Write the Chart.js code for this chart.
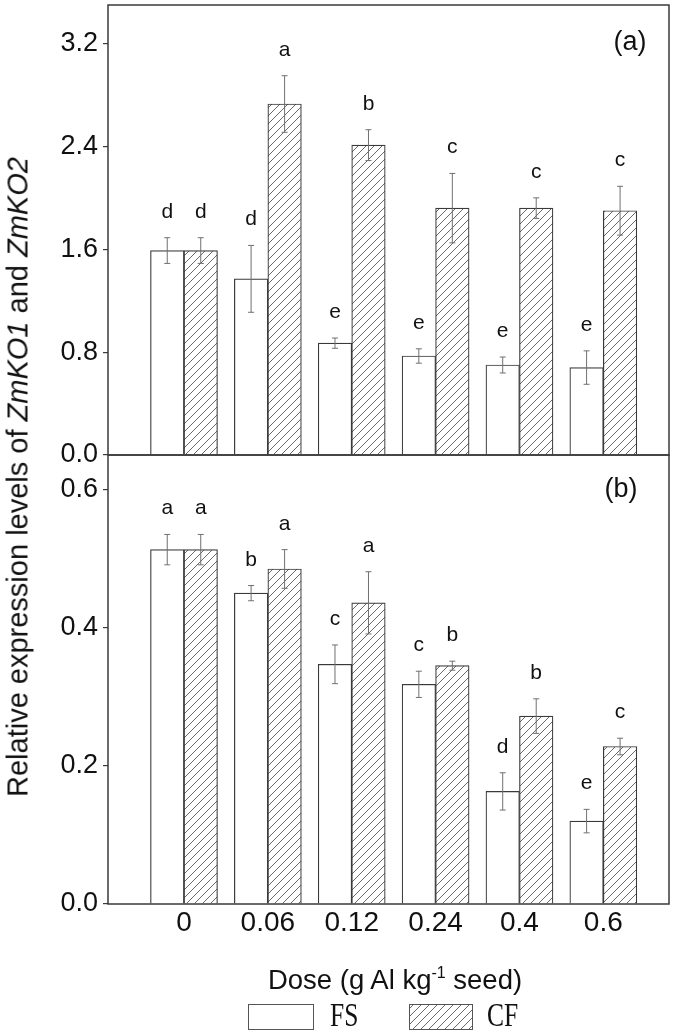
<!DOCTYPE html>
<html>
<head>
<meta charset="utf-8">
<script src="https://cdn.jsdelivr.net/npm/chart.js@4.4.0/dist/chart.umd.min.js"></script>
<style>
  body { margin: 0; background: #fff; }
  #wrap { position: relative; width: 675px; height: 1034px; overflow: hidden;
          font-family: Arial, "Liberation Sans", sans-serif; color: #111; }
  #cA { position: absolute; left: 0; top: 0; width: 675px; height: 480px; }
  #cB { position: absolute; left: 0; top: 450px; width: 675px; height: 584px; }
  #ytitle { position: absolute; left: 18px; top: 477px; white-space: nowrap; font-size: 29px;
            transform: translate(-50%, -50%) rotate(-90deg); }
  #xtitle { position: absolute; left: 395px; top: 980px; white-space: nowrap; font-size: 27.5px;
            transform: translate(-50%, -50%); }
  #xtitle sup { font-size: 16px; vertical-align: 11px; line-height: 0; }
</style>
</head>
<body>
<div id="wrap">
  <canvas id="cA" width="675" height="480"></canvas>
  <canvas id="cB" width="675" height="584"></canvas>
  <div id="ytitle">Relative expression levels of <i>ZmKO1</i> and <i>ZmKO2</i></div>
  <div id="xtitle">Dose (g Al kg<sup>-1</sup> seed)</div>
</div>
<script>
// ---- data ----
const doses = ['0', '0.06', '0.12', '0.24', '0.4', '0.6'];

// panel (a) ZmKO1
const fsA    = [1.59, 1.37, 0.87, 0.77, 0.70, 0.68];
const fsAErr = [0.10, 0.26, 0.04, 0.056, 0.062, 0.13];
const cfA    = [1.59, 2.73, 2.41, 1.92, 1.92, 1.90];
const cfAErr = [0.10, 0.22, 0.12, 0.27, 0.08, 0.19];
const fsALetters = ['d', 'd', 'e', 'e', 'e', 'e'];
const cfALetters = ['d', 'a', 'b', 'c', 'c', 'c'];
const yTicksA = [0, 0.8, 1.6, 2.4, 3.2];

// panel (b) ZmKO2
const fsB    = [0.513, 0.450, 0.347, 0.318, 0.163, 0.120];
const fsBErr = [0.022, 0.011, 0.028, 0.019, 0.027, 0.017];
const cfB    = [0.513, 0.485, 0.436, 0.345, 0.272, 0.228];
const cfBErr = [0.022, 0.028, 0.045, 0.0065, 0.025, 0.012];
const fsBLetters = ['a', 'b', 'c', 'c', 'd', 'e'];
const cfBLetters = ['a', 'a', 'a', 'b', 'b', 'c'];
const yTicksB = [0, 0.2, 0.4, 0.6];

const LINE = '#3a3a3a';
const ERR = '#707070';
const TEXT = '#111';

// diagonal hatch used for the CF bars
function makeHatch() {
    const c = document.createElement('canvas');
    c.width = 8; c.height = 8;
    const g = c.getContext('2d');
    g.fillStyle = '#fff';
    g.fillRect(0, 0, 8, 8);
    g.strokeStyle = '#6a6a6a';
    g.lineWidth = 1;
    g.beginPath();
    g.moveTo(0, 8); g.lineTo(8, 0);
    g.moveTo(-1, 1); g.lineTo(1, -1);
    g.moveTo(7, 9); g.lineTo(9, 7);
    g.stroke();
    return g.createPattern(c, 'repeat');
}
const hatch = makeHatch();

const panelDecor = {
    id: 'panelDecor',
    afterDatasetsDraw(chart, args, opts) {
        const { ctx } = chart;
        const y = chart.scales.y;
        ctx.save();
        chart.data.datasets.forEach((ds, di) => {
            const meta = chart.getDatasetMeta(di);
            meta.data.forEach((bar, i) => {
                const v = ds.data[i].y;
                const e = ds.err[i];
                const top = y.getPixelForValue(v + e);
                const bot = y.getPixelForValue(v - e);
                ctx.strokeStyle = ERR;
                ctx.lineWidth = 1;
                ctx.beginPath();
                ctx.moveTo(bar.x, top); ctx.lineTo(bar.x, bot);
                ctx.moveTo(bar.x - 3, top); ctx.lineTo(bar.x + 3, top);
                ctx.moveTo(bar.x - 3, bot); ctx.lineTo(bar.x + 3, bot);
                ctx.stroke();
                ctx.fillStyle = TEXT;
                ctx.font = '21px Arial, "Liberation Sans", sans-serif';
                ctx.textAlign = 'center';
                ctx.textBaseline = 'alphabetic';
                ctx.fillText(ds.letters[i], bar.x, top - 20);
            });
        });
        ctx.restore();
    },
    afterDraw(chart, args, opts) {
        const { ctx, chartArea: a } = chart;
        ctx.save();
        ctx.strokeStyle = LINE;
        ctx.lineWidth = 1.5;
        ctx.strokeRect(a.left, a.top, a.right - a.left, a.bottom - a.top);
        ctx.fillStyle = TEXT;
        ctx.font = '27px Arial, "Liberation Sans", sans-serif';
        ctx.textAlign = 'center';
        ctx.textBaseline = 'middle';
        ctx.fillText(opts.tag, opts.tagX, opts.tagY);
        if (opts.legend) {
            const ly = 554;
            ctx.lineWidth = 1;
            ctx.strokeStyle = '#555';
            ctx.fillStyle = '#fff';
            ctx.fillRect(248, ly, 65, 25);
            ctx.strokeRect(248.5, ly + 0.5, 65, 25);
            ctx.fillStyle = hatch;
            ctx.fillRect(409, ly, 63, 25);
            ctx.strokeRect(409.5, ly + 0.5, 63, 25);
            ctx.fillStyle = TEXT;
            ctx.font = '34px "Liberation Serif", "Times New Roman", serif';
            ctx.textAlign = 'left';
            ctx.textBaseline = 'middle';
            [['FS', 330], ['CF', 487]].forEach(([t, x]) => {
                ctx.save();
                ctx.translate(x, ly + 13);
                ctx.scale(0.75, 1);
                ctx.fillText(t, 0, 0);
                ctx.restore();
            });
        }
        ctx.restore();
    }
};

function makePanel(canvas, fs, fsErr, fsLet, cf, cfErr, cfLet, yMax, yTicks, decor, showX) {
    return new Chart(canvas, {
        type: 'bar',
        data: {
            datasets: [{
                label: 'FS',
                data: fs.map((v, i) => ({ x: i, y: v })),
                err: fsErr,
                letters: fsLet,
                backgroundColor: '#fff',
                borderColor: LINE,
                borderWidth: 1.2,
                barThickness: 33.5
            }, {
                label: 'CF',
                data: cf.map((v, i) => ({ x: i, y: v })),
                err: cfErr,
                letters: cfLet,
                backgroundColor: hatch,
                borderColor: LINE,
                borderWidth: 1.2,
                barThickness: 33.5
            }]
        },
        options: {
            responsive: false,
            maintainAspectRatio: false,
            animation: false,
            layout: { padding: { left: 0, right: 6, top: 5, bottom: showX ? 0 : 25 } },
            plugins: {
                legend: { display: false },
                tooltip: { enabled: false },
                panelDecor: decor
            },
            scales: {
                x: {
                    type: 'linear',
                    display: showX,
                    min: -0.906,
                    max: 5.783,
                    offset: false,
                    grid: { display: false, drawTicks: false },
                    border: { display: false },
                    afterBuildTicks: s => { s.ticks = doses.map((d, i) => ({ value: i })); },
                    afterFit: s => { s.height = showX ? 130 : 0; s.paddingLeft = 0; s.paddingRight = 0; },
                    ticks: {
                        padding: 2,
                        color: TEXT,
                        font: { family: 'Arial, "Liberation Sans", sans-serif', size: 28 },
                        maxRotation: 0,
                        autoSkip: false,
                        callback: v => doses[v]
                    }
                },
                y: {
                    min: 0,
                    max: yMax,
                    grid: { drawOnChartArea: false, drawTicks: true, tickLength: 5, color: LINE, lineWidth: 1.2 },
                    border: { display: false },
                    afterBuildTicks: s => { s.ticks = yTicks.map(v => ({ value: v })); },
                    afterFit: s => { s.width = 108; s.paddingTop = 0; s.paddingBottom = 0; },
                    ticks: {
                        padding: 5,
                        color: TEXT,
                        font: { family: 'Arial, "Liberation Sans", sans-serif', size: 27 },
                        callback: v => v.toFixed(1)
                    }
                }
            }
        },
        plugins: [panelDecor]
    });
}

makePanel(document.getElementById('cA'), fsA, fsAErr, fsALetters, cfA, cfAErr, cfALetters,
    3.5, yTicksA, { tag: '(a)', tagX: 630, tagY: 43, legend: false }, false);
makePanel(document.getElementById('cB'), fsB, fsBErr, fsBLetters, cfB, cfBErr, cfBLetters,
    0.65, yTicksB, { tag: '(b)', tagX: 621, tagY: 40, legend: true }, true);
</script>
</body>
</html>
